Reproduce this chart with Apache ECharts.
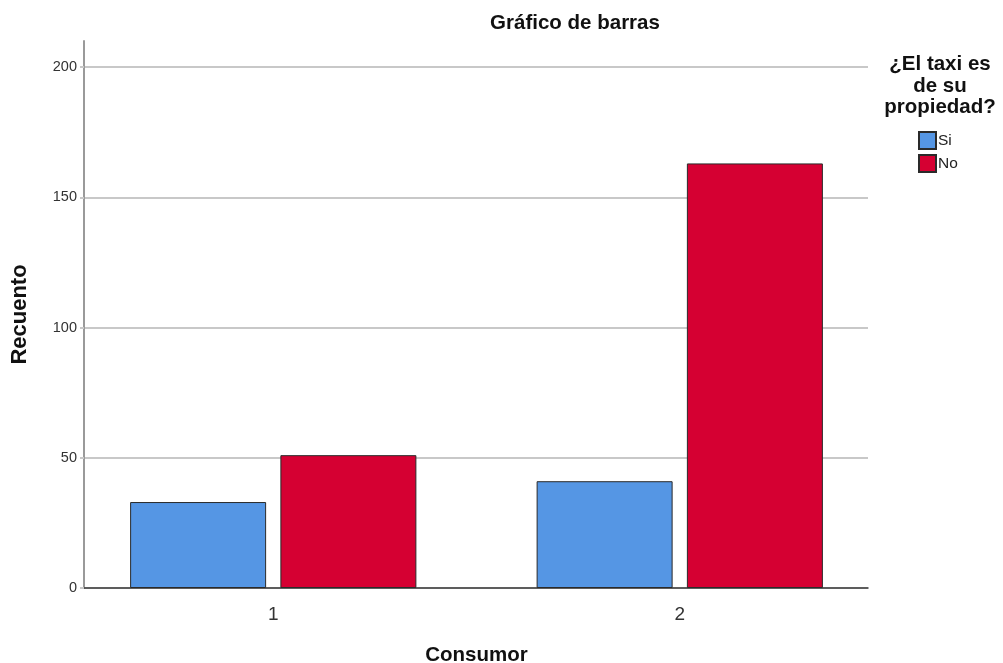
<!DOCTYPE html>
<html>
<head>
<meta charset="utf-8">
<script src="https://cdn.jsdelivr.net/npm/echarts@6/dist/echarts.min.js"></script>
<style>
html,body{margin:0;padding:0;background:#fff;}
#chart{width:1003px;height:663px;}
</style>
</head>
<body>
<div id="chart"></div>
<script>
const categories = ['1', '2'];
const seriesNames = ['Si', 'No'];
const siValues = [33, 41];
const noValues = [51, 163];
const yTicks = [0, 50, 100, 150, 200];

const chart = echarts.init(document.getElementById('chart'));
const FONT = 'Liberation Sans, Arial, sans-serif';
const gTop = 41, gBottom = 75;

chart.setOption({
  backgroundColor: '#ffffff',
  animation: false,
  title: [
    { text: 'Gráfico de barras', left: 575, top: 13, textAlign: 'center', padding: 0,
      textStyle: { fontFamily: FONT, fontSize: 20.5, fontWeight: 'bold', color: '#111' } },
    { text: '¿El taxi es\nde su\npropiedad?', left: 940, top: 54, textAlign: 'center', padding: 0,
      textStyle: { fontFamily: FONT, fontSize: 20.5, fontWeight: 'bold', color: '#111', lineHeight: 21.5 } }
  ],
  legend: {
    orient: 'vertical', left: 918, top: 131, padding: 0,
    itemWidth: 17, itemHeight: 17, itemGap: 4,
    icon: 'rect',
    data: seriesNames,
    textStyle: { fontFamily: FONT, fontSize: 15.5, color: '#222', padding: [0, 0, 0, -3] }
  },
  grid: [
    { left: 84, right: 135, top: gTop, bottom: gBottom, outerBoundsMode: 'none', containLabel: false },
    { left: 70, width: 813, top: gTop, bottom: gBottom, outerBoundsMode: 'none', containLabel: false }
  ],
  xAxis: [
    { gridIndex: 0, type: 'value', min: 0, max: 1, show: true,
      axisLine: { show: true, lineStyle: { color: '#3a3a3a', width: 1.5 } },
      axisTick: { show: false }, axisLabel: { show: false }, splitLine: { show: false } },
    { gridIndex: 1, type: 'category', data: categories,
      axisLine: { show: false }, axisTick: { show: false },
      axisLabel: { margin: 17, fontFamily: FONT, fontSize: 19, color: '#333' },
      name: 'Consumor', nameLocation: 'middle', nameGap: 57,
      nameTextStyle: { fontFamily: FONT, fontSize: 20.5, fontWeight: 'bold', color: '#111' } }
  ],
  yAxis: [
    { gridIndex: 0, type: 'value', min: 0, max: 210, interval: 50,
      axisLine: { show: true, lineStyle: { color: '#9a9a9a', width: 2 } },
      axisTick: { show: true, length: 4, customValues: yTicks, lineStyle: { color: '#c8c8c8', width: 2 } },
      axisLabel: { margin: 7, fontFamily: FONT, fontSize: 14.5, color: '#333', customValues: yTicks },
      splitLine: { show: true, lineStyle: { color: '#c8c8c8', width: 2 } },
      name: 'Recuento', nameLocation: 'middle', nameGap: 53, nameRotate: 90,
      nameTextStyle: { fontFamily: FONT, fontSize: 22, fontWeight: 'bold', color: '#111' } },
    { gridIndex: 1, type: 'value', min: 0, max: 210, show: false, splitLine: { show: false } }
  ],
  series: [
    { name: 'Si', type: 'bar', xAxisIndex: 1, yAxisIndex: 1, data: siValues,
      barWidth: 136, barGap: '10.5%',
      itemStyle: { color: '#5596e4', borderColor: '#2a2a2a', borderWidth: 1 } },
    { name: 'No', type: 'bar', xAxisIndex: 1, yAxisIndex: 1, data: noValues,
      barWidth: 136, barGap: '10.5%',
      itemStyle: { color: '#d50032', borderColor: '#2a2a2a', borderWidth: 1 } }
  ]
});
</script>
</body>
</html>
